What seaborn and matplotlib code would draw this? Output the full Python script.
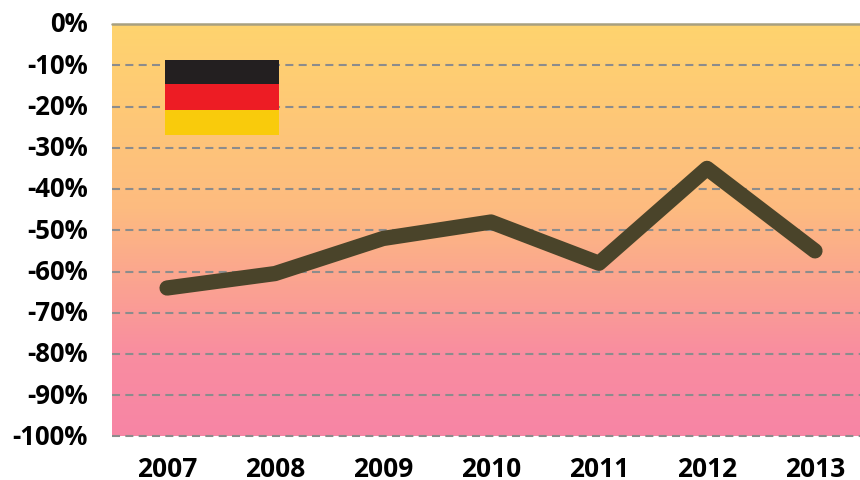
# -*- coding: utf-8 -*-
import numpy as np
import pandas as pd
import matplotlib
matplotlib.use('Agg')
import matplotlib.pyplot as plt
from matplotlib.colors import LinearSegmentedColormap
from matplotlib.patches import Rectangle
from matplotlib.transforms import ScaledTranslation
import seaborn as sns

years = ['2007', '2008', '2009', '2010', '2011', '2012', '2013']
values = [-64, -60.5, -52, -48, -58, -35, -55]
yticks = [0, -10, -20, -30, -40, -50, -60, -70, -80, -90, -100]
ylabels = ['0%', '-10%', '-20%', '-30%', '-40%', '-50%', '-60%', '-70%', '-80%', '-90%', '-100%']

sns.set_theme(style='white')
plt.rcParams['font.family'] = ['Open Sans', 'DejaVu Sans']

W, H = 860, 481
fig = plt.figure(figsize=(W / 100, H / 100), dpi=100)
ax = fig.add_axes([112 / W, 1 - 437.5 / H, (860 - 112) / W, (437.5 - 25) / H])

df = pd.DataFrame({'year': years, 'value': values})
sns.lineplot(data=df, x='year', y='value', ax=ax, color='#4A442A', linewidth=11,
             solid_capstyle='round', solid_joinstyle='round', zorder=5)

ax.set_xlim(-0.51, 6.417)
ax.set_ylim(-100, 0)

# fondo degradado
cmap = LinearSegmentedColormap.from_list('fondo', [(0, '#FFD46E'), (0.45, '#FDBB80'), (0.8, '#F98DA0'), (1, '#F785A5')])
grad = np.linspace(0, 1, 256).reshape(-1, 1)
ax.imshow(grad, cmap=cmap, aspect='auto', extent=(-0.51, 6.417, -100, 0), zorder=0)

# lineas de guia
for y in yticks[1:]:
    ax.axhline(y, color='#8C8C8C', linewidth=1.5, dashes=(3.85, 2.55), zorder=2, clip_on=False)
ax.axhline(0, color='#A8A080', linewidth=1.8, zorder=2, clip_on=False)

# bandera
flag = [('#231F20', 60.5, 85), ('#ED1C24', 85, 111), ('#F9CB0C', 111, 136)]
for c, y0, y1 in flag:
    ax.add_patch(Rectangle((165 / W, 1 - y1 / H), 114 / W, (y1 - y0) / H, facecolor=c,
                           edgecolor='none', transform=fig.transFigure, zorder=3))

ax.set_yticks(yticks)
ax.set_yticklabels(ylabels)
ax.set_xlabel('')
ax.set_ylabel('')
for s in ax.spines.values():
    s.set_visible(False)
ax.tick_params(axis='y', length=0, pad=17.5)
ax.tick_params(axis='x', length=0, pad=13)
for t in ax.get_xticklabels():
    t.set_fontsize(19)
    t.set_fontweight('bold')
    t.set_color('black')
sube = ScaledTranslation(0, 3 / 100, fig.dpi_scale_trans)
for t in ax.get_yticklabels():
    t.set_fontsize(18.5)
    t.set_fontweight('bold')
    t.set_color('black')
    t.set_transform(t.get_transform() + sube)

fig.savefig('out.png', dpi=100)
